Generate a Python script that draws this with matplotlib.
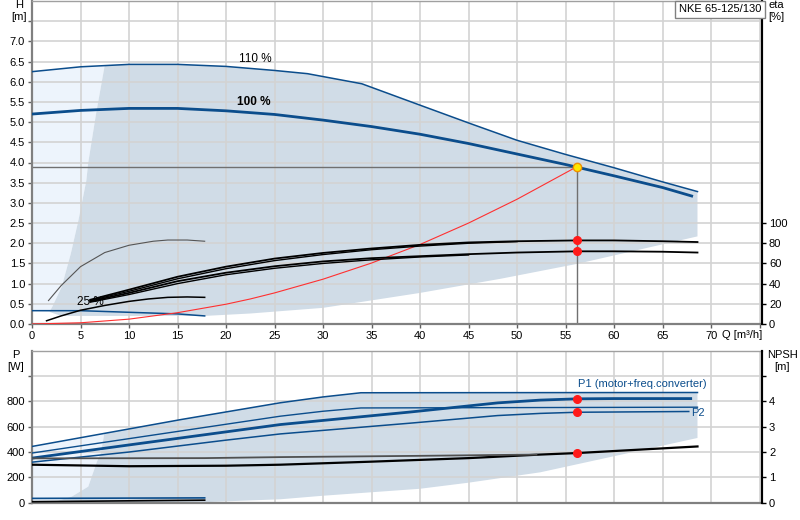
import matplotlib
matplotlib.use('Agg')
import matplotlib.pyplot as plt
import numpy as np

plt.rcParams['font.family'] = ['Liberation Sans', 'DejaVu Sans']
plt.rcParams['font.size'] = 8

# ---- pump curves, top panel (Q [m3/h], H [m]) ----
q_110 = [0, 5, 10, 15, 20, 25, 28.4, 34, 40, 45, 50, 55, 60, 65, 68.6]
h_110 = [6.25, 6.37, 6.43, 6.43, 6.38, 6.28, 6.2, 5.95, 5.42, 4.98, 4.55, 4.2, 3.87, 3.52, 3.28]

q_100 = [0, 5, 10, 15, 20, 25, 30, 35, 40, 45, 50, 55, 60, 65, 68.0]
h_100 = [5.2, 5.29, 5.34, 5.34, 5.28, 5.19, 5.05, 4.89, 4.7, 4.47, 4.21, 3.95, 3.67, 3.38, 3.17]

q_25 = [0, 5, 10, 15, 17.8]
h_25 = [0.33, 0.33, 0.29, 0.25, 0.2]

# system curve
q_sys = [0, 5, 10, 15, 20, 22.5, 25, 30, 35, 40, 45, 50, 56.2]
h_sys = [0, 0.03, 0.12, 0.28, 0.49, 0.62, 0.77, 1.11, 1.51, 1.97, 2.5, 3.09, 3.9]

duty_q = 56.2
duty_h = 3.9

# operating range shading
edge_q = [1.8, 2.1, 3.06, 4.0, 4.78, 5.6, 5.8, 6.6, 7.5]
edge_h = [0.3, 0.43, 0.92, 1.74, 2.56, 3.55, 4.0, 5.2, 6.41]
low_q = [1.8, 3, 17.8, 22.5, 30, 40, 48.3, 56.2, 68.6]
low_h = [0.3, 0.2, 0.2, 0.26, 0.4, 0.77, 1.12, 1.49, 2.17]

# efficiency curves [%]
eta_q = [6, 10, 15, 20, 25, 30, 35, 40, 45, 50, 56.2, 60, 65, 68.6]
eta_a1 = [24, 34, 46.8, 56.8, 64.8, 70.4, 74.8, 78.4, 80.8, 82, 82.8, 82.8, 82, 81.2]
eta_a2 = [23.2, 32.4, 44.8, 54.8, 62.8, 68.8, 73.6, 77.2, 80, 81.6]
eta_b1 = [22.4, 30.8, 42.4, 50.8, 57.2, 62, 65.2, 67.2, 69.2, 70.8, 72, 72, 71.6, 70.8]
eta_b2 = [21.6, 29.2, 40, 48.8, 55.2, 60, 63.6, 66.4, 68.4]

eta_arc_q = [1.7, 3, 5, 7.5, 10, 12.5, 14, 16, 17.8]
eta_arc = [23.2, 38, 56.8, 70.8, 78, 82, 83.2, 83.2, 82]
eta_lo_q = [1.5, 3, 5, 7.5, 10, 12, 14, 16, 17.8]
eta_lo = [3.2, 8, 13.6, 18.4, 22.4, 24.8, 26.4, 26.8, 26.4]

duty_eta = [82.8, 72]

# ---- power / NPSH, bottom panel ----
p1_110_q = [0, 15.4, 25.6, 30, 33.9, 68.6]
p1_110 = [444, 657, 789, 835, 868, 870]
p2_110_q = [0, 25.6, 30, 33.9, 68.6]
p2_110 = [392, 683, 722, 748, 754]
p1_100_q = [0, 10, 25.6, 39, 48, 52.4, 56.2, 60, 67.9]
p1_100 = [352, 456, 617, 716, 788, 810, 820, 822, 822]
p2_100_q = [0, 10, 19.9, 25.6, 39, 48, 52.4, 56.2, 67.7]
p2_100 = [320, 400, 493, 543, 628, 688, 705, 714, 720]
p_25_q = [0, 17.8]
p_25 = [34, 38]

npsh_a_q = [0, 10, 20, 25.6, 35, 45, 52.4, 56.2, 68.6]
npsh_a = [1.5, 1.44, 1.46, 1.5, 1.62, 1.76, 1.9, 1.96, 2.22]
npsh_b_q = [0, 17.8, 25.6, 40, 52]
npsh_b = [1.75, 1.76, 1.8, 1.85, 1.9]
npsh_25 = [0.04, 0.1]

pedge_q = [2.0, 4.1, 5.8, 6.7, 7.1, 7.35, 7.45]
pedge_p = [0, 48, 127, 325, 392, 500, 547]
plow_q = [2.0, 18, 25.6, 30, 40, 45, 52.4, 68.6]
plow_p = [0, 5, 27, 55, 110, 158, 240, 511]

duty_p = [820, 714]
duty_npsh = 1.96

blue = '#0b4d8c'
dark_fill = '#d0dce7'
light_fill = '#edf4fc'
grid_c = '#d3d3d3'

fig = plt.figure(figsize=(8, 5.2), dpi=100)
ax = fig.add_axes([32 / 800, 1 - 324 / 520, 730 / 800, 323 / 520])
ax_b = fig.add_axes([32 / 800, 1 - 502.7 / 520, 730 / 800, 152 / 520])


def style(a):
    a.set_axisbelow(True)
    a.grid(True, color=grid_c, lw=1.2)
    for s in ['left', 'bottom']:
        a.spines[s].set_color('#808080')
        a.spines[s].set_linewidth(1.6)
    a.spines['top'].set_color('#a0a0a0')
    a.spines['top'].set_linewidth(1)
    a.spines['right'].set_color('black')
    a.spines['right'].set_linewidth(1.5)
    a.tick_params(direction='out', length=3, width=1, color='#606060',
                  labelsize=8, pad=2)


# ---------- top panel ----------
xs_light = [0, 0, 5] + edge_q[::-1]
ys_light = [h_25[0], h_110[0], h_110[1]] + edge_h[::-1]
ax.fill(xs_light, ys_light, color=light_fill, lw=0, zorder=0.2)

top_q = [q for q in q_110 if q > edge_q[-1]]
top_h = [h for q, h in zip(q_110, h_110) if q > edge_q[-1]]
xs_dark = edge_q + top_q + low_q[::-1]
ys_dark = edge_h + top_h + low_h[::-1]
ax.fill(xs_dark, ys_dark, color=dark_fill, lw=0, zorder=0.2)

ax.plot(q_110, h_110, color=blue, lw=1.1, zorder=3)
ax.plot(q_100, h_100, color=blue, lw=2.0, zorder=3)
ax.plot(q_25, h_25, color=blue, lw=1.1, zorder=3)
ax.plot(q_sys, h_sys, color='#ff3030', lw=0.8, zorder=3)
ax.plot([0, duty_q], [duty_h, duty_h], color='#707070', lw=1, zorder=2.5)
ax.plot([duty_q, duty_q], [0, duty_h], color='#707070', lw=1, zorder=2.5)
ax.plot(duty_q, duty_h, 'o', ms=6, mfc='#ffe800', mec='#f09000', mew=1, zorder=5)

ax.text(21.3, 6.57, '110 %', fontsize=8.5, va='center', ha='left')
ax.text(21.1, 5.5, '100 %', fontsize=8.5, va='center', ha='left', fontweight='bold')
ax.text(4.6, 0.55, '25 %', fontsize=8.5, va='center', ha='left', zorder=1)

ax.set_xlim(0, 75.25)
ax.set_ylim(0, 8)
style(ax)
ax.set_xticks(np.arange(0, 76, 5))
ax.set_xticklabels([str(v) if v <= 70 else '' for v in range(0, 76, 5)])
ax.set_yticks(np.arange(0, 8.0, 0.5))
ax.set_yticklabels(['%.1f' % v if v <= 7.0 else '' for v in np.arange(0, 8.0, 0.5)])

ax_eta = ax.twinx()
ax_eta.set_ylim(0, 320)
ax_eta.set_yticks(range(0, 101, 20))
for s in ['left', 'bottom', 'top']:
    ax_eta.spines[s].set_visible(False)
ax_eta.spines['right'].set_color('black')
ax_eta.spines['right'].set_linewidth(1.5)
ax_eta.tick_params(direction='out', length=3, width=1, labelsize=8, pad=2)

ax_eta.plot(eta_q, eta_a1, color='black', lw=1.3)
ax_eta.plot(eta_q[:len(eta_a2)], eta_a2, color='black', lw=1.0)
ax_eta.plot(eta_q, eta_b1, color='black', lw=1.3)
ax_eta.plot(eta_q[:len(eta_b2)], eta_b2, color='black', lw=1.0)
ax_eta.plot(eta_arc_q, eta_arc, color='#555555', lw=0.8)
ax_eta.plot(eta_lo_q, eta_lo, color='black', lw=1.1)
ax_eta.plot([duty_q] * 2, duty_eta, 'o', ms=5.5, color='#ff1a1a', zorder=5)

# ---------- bottom panel ----------
xs_pl = [0, 0, pedge_q[-1]] + pedge_q[::-1]
ys_pl = [0, p1_110[0], pedge_p[-1]] + pedge_p[::-1]
ax_b.fill(xs_pl, ys_pl, color=light_fill, lw=0, zorder=0.2)

ptop_q = [q for q in p1_110_q if q > pedge_q[-1]]
ptop_p = [p for q, p in zip(p1_110_q, p1_110) if q > pedge_q[-1]]
ax_b.fill(pedge_q + ptop_q + plow_q[::-1], pedge_p + ptop_p + plow_p[::-1],
          color=dark_fill, lw=0, zorder=0.2)

ax_b.plot(p1_110_q, p1_110, color=blue, lw=1.1, zorder=3)
ax_b.plot(p2_110_q, p2_110, color=blue, lw=1.0, zorder=3)
ax_b.plot(p1_100_q, p1_100, color=blue, lw=2.0, zorder=3)
ax_b.plot(p2_100_q, p2_100, color=blue, lw=1.1, zorder=3)
ax_b.plot(p_25_q, p_25, color=blue, lw=1.2, zorder=3)
ax_b.plot([duty_q] * 2, duty_p, 'o', ms=5.5, color='#ff1a1a', zorder=5)
ax_b.text(69.5, 934, 'P1 (motor+freq.converter)', color=blue, fontsize=8,
          ha='right', va='center')
ax_b.text(67.9, 709, 'P2', color=blue, fontsize=8, ha='left', va='center')

ax_b.set_xlim(0, 75.25)
ax_b.set_ylim(0, 1200)
style(ax_b)
ax_b.set_xticks(np.arange(0, 76, 5))
ax_b.tick_params(axis='x', length=0, labelbottom=False)
ax_b.set_yticks(range(0, 1001, 200))
ax_b.set_yticklabels([str(v) if v <= 800 else '' for v in range(0, 1001, 200)])

ax_npsh = ax_b.twinx()
ax_npsh.set_ylim(0, 6)
ax_npsh.set_yticks(range(0, 6))
ax_npsh.set_yticklabels([str(v) if v <= 4 else '' for v in range(0, 6)])
for s in ['left', 'bottom', 'top']:
    ax_npsh.spines[s].set_visible(False)
ax_npsh.spines['right'].set_color('black')
ax_npsh.spines['right'].set_linewidth(1.5)
ax_npsh.tick_params(direction='out', length=3, width=1, labelsize=8, pad=2)

ax_npsh.plot(npsh_a_q, npsh_a, color='black', lw=1.6)
ax_npsh.plot(npsh_b_q, npsh_b, color='#505050', lw=1.3)
ax_npsh.plot(p_25_q, npsh_25, color='black', lw=1.2)
ax_npsh.plot(duty_q, duty_npsh, 'o', ms=5.5, color='#ff1a1a', zorder=5)

# ---------- axis labels ----------
def ftext(x, y, s, **kw):
    fig.text(x / 800, 1 - y / 520, s, ha='center', va='center', fontsize=8, **kw)

ftext(19.5, 5, 'H')
ftext(19.5, 17, '[m]')
ftext(776, 5, 'eta')
ftext(776, 17, '[%]')
ftext(15.7, 355, 'P')
ftext(15.7, 367, '[W]')
ftext(782, 355, 'NPSH')
ftext(782, 367, '[m]')
fig.text(722 / 800, 1 - 335 / 520, 'Q [m\u00b3/h]', ha='left', va='center', fontsize=8)
fig.text(720 / 800, 1 - 9.5 / 520, 'NKE 65-125/130', ha='center', va='center',
         fontsize=8, bbox=dict(boxstyle='square,pad=0.3', fc='white', ec='#808080', lw=1))

fig.savefig('out.png', dpi=100)
